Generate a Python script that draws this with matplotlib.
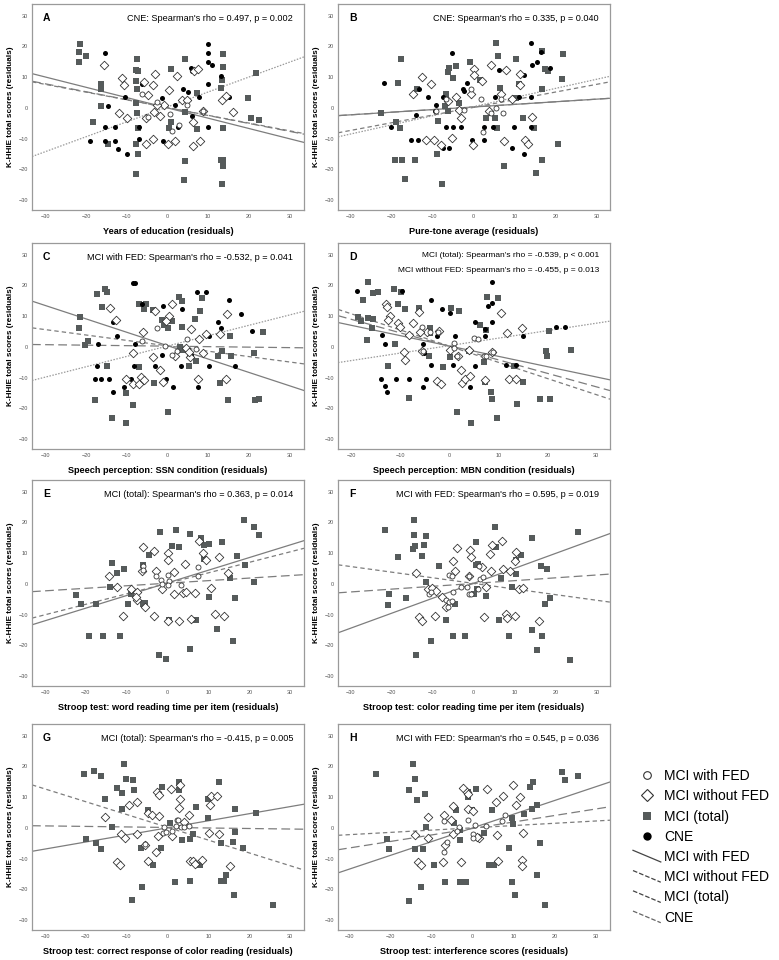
import matplotlib
matplotlib.use("Agg")
import numpy as np
import matplotlib.pyplot as plt
from matplotlib.lines import Line2D
from matplotlib.legend_handler import HandlerBase

plt.rcParams["font.family"] = ["Liberation Sans", "DejaVu Sans"]

# ---------------- data (residuals) ----------------
# A: years of education
A_TOTAL = [(-21.6, 20.9), (-21.8, 18.3), (-21.8, 14.9), (-20.0, 16.8), (-16.5, 7.9), (-16.5, 6.0),
           (-16.3, 0.5), (-18.4, -4.7), (-14.7, -11.8), (-7.5, 15.8), (-7.8, 12.2), (-7.2, 12.0),
           (-7.9, 8.7), (-7.5, 6.0), (-7.7, 1.6), (-7.5, -1.6), (-7.2, -6.5), (-7.7, -11.7),
           (-7.4, -15.0), (-7.9, -21.5), (0.8, 12.7), (0.9, -4.6), (0.4, -6.5), (4.4, 16.0),
           (4.4, -17.2), (4.1, -23.4), (7.3, -6.8), (13.7, 17.6), (13.6, 13.3), (13.3, 9.2),
           (13.2, 6.5), (13.2, -16.8), (13.7, -16.8), (13.6, -19.0), (13.7, -6.5), (13.3, -24.8),
           (21.8, 11.2), (19.9, 3.3), (20.6, -3.3), (22.4, -3.8), (4.4, -1.3), (7.3, 4.9)]
A_CNE = [(-15.5, 17.9), (-14.7, 0.5), (-15.5, -6.3), (-13.0, -6.3), (-19.0, -10.7), (-15.5, -10.7),
         (-13.0, -10.7), (-12.2, -13.4), (-10.1, -15.0), (-10.5, 3.6), (-7.0, -6.3), (-7.0, -10.1),
         (-6.4, 7.9), (-1.5, 3.3), (-1.2, -10.7), (1.8, 0.8), (2.6, -6.3), (3.9, 6.2), (5.1, 5.1),
         (5.8, 13.0), (5.9, 12.0), (5.9, -2.5), (7.7, 3.5), (10.0, 20.9), (10.0, 17.9), (10.0, 14.9),
         (11.0, 13.8), (10.0, 7.8), (10.0, -6.3), (13.1, 10.5), (15.2, 3.5)]
A_NOFED = [(-15.6, 13.8), (-11.2, 9.8), (-10.7, 7.4), (-10.0, -3.3), (-12.0, -1.6), (-5.8, 8.5),
           (-4.8, 4.1), (-5.2, -3.3), (-3.5, 7.4), (-3.0, 10.9), (-3.4, -1.3), (-3.7, -10.1),
           (-5.3, -11.7), (-1.9, -2.5), (-0.9, 0.8), (0.4, 5.7), (2.2, 10.3), (3.5, 2.7), (4.7, 2.7),
           (6.2, -4.6), (6.3, -12.3), (6.6, 12.0), (7.4, 12.5), (8.0, -10.9), (8.8, -1.1), (13.3, 2.7),
           (14.4, 3.8), (16.2, -1.4), (0.2, -11.7), (1.8, -10.9), (-2.7, 1.1)]
A_FED = [(-6.4, 4.6), (-2.5, 2.0), (1.0, -7.6), (4.7, 0.8), (8.7, -1.0), (2.9, -5.5), (-4.8, -3.0),
         (0.5, -2.0)]

# B: pure-tone average
B_TOTAL = [(5.4, 21.0), (-17.7, 15.8), (-0.9, 14.9), (6.0, 16.9), (10.5, 16.0), (16.7, 18.5),
           (21.8, 17.7), (-4.3, 13.5), (-5.9, 12.9), (-6.2, 11.6), (-4.9, 9.6), (1.5, 9.1), (6.4, 6.6),
           (11.1, 7.7), (16.7, 6.1), (17.5, 12.5), (18.1, 11.9), (21.6, 9.4), (-18.4, 8.0),
           (-13.7, 6.3), (-6.6, 4.6), (-6.9, 0.6), (-22.5, -1.7), (-18.8, -4.6), (-18.0, -6.4),
           (-8.6, -4.4), (-6.3, -1.1), (-3.4, 1.7), (3.0, -3.3), (5.2, -3.3), (5.7, -6.4),
           (12.0, -3.3), (14.8, -6.6), (20.6, -11.6), (-8.9, -14.9), (-19.2, -16.9), (-17.4, -17.1),
           (-14.3, -17.1), (7.4, -18.8), (16.7, -17.1), (15.2, -21.3), (-16.6, -23.2), (-7.6, -24.6),
           (10.3, 3.3)]
B_CNE = [(-5.1, 18.0), (-21.7, 8.0), (-13.3, 6.3), (-11.0, 3.5), (-9.2, 0.9), (-7.3, 3.5),
         (-9.4, -0.9), (-2.6, 6.3), (-2.2, 5.5), (-1.6, 8.0), (-13.9, -2.4), (-20.0, -6.1),
         (-15.1, -10.5), (-13.5, -10.5), (-6.7, -6.1), (-4.9, -6.1), (-3.0, -6.1), (-7.3, -13.0),
         (-5.9, -13.0), (-0.4, -10.5), (2.5, -10.5), (2.5, -6.1), (4.9, -6.1), (5.2, 3.5), (6.2, 12.2),
         (11.2, 3.5), (12.3, 10.7), (14.0, 21.0), (14.4, 14.0), (15.4, 14.9), (16.5, 18.2),
         (18.7, 13.0), (14.0, 3.5), (9.9, -6.1), (14.0, -6.1), (9.3, -13.0), (12.3, -14.9)]
B_NOFED = [(-12.5, 10.2), (-10.4, 7.7), (-14.7, 4.4), (-4.3, 3.5), (-6.1, 2.4), (-3.4, -0.6),
           (0.2, 12.7), (0.1, 10.7), (2.1, 8.6), (4.2, 14.0), (8.0, 12.2), (11.3, 11.0), (11.3, 7.5),
           (6.8, 4.4), (9.3, 2.8), (14.4, -3.1), (-11.5, -10.5), (-9.6, -10.5), (-7.8, -11.9),
           (-5.3, -9.7), (0.0, -12.2), (7.5, -10.8), (12.6, -10.5), (13.4, -11.6), (3.9, -1.1),
           (-3.0, -3.3), (-0.6, 4.6)]
B_FED = [(-0.6, 6.3), (1.9, 3.0), (5.6, 0.0), (7.2, -1.7), (4.4, -1.7), (-2.2, -0.6), (-9.0, -1.1),
         (2.3, -7.7), (6.8, 2.8), (-6.7, 2.8)]

# C: speech perception, SSN
C_TOTAL = [(-21.6, 9.7), (-21.9, 6.2), (-20.4, 0.5), (-19.6, 1.8), (-17.4, 17.1), (-16.1, 12.9),
           (-15.3, 18.7), (-14.9, 17.9), (-14.9, -6.3), (-17.8, -17.2), (-13.6, -23.2), (-10.3, -24.6),
           (-10.3, -15.0), (-8.5, -18.8), (-7.0, -6.6), (-7.0, 14.1), (-5.8, 12.4), (-5.3, 13.8),
           (-3.5, 12.0), (-3.4, -11.7), (-1.5, 8.9), (-0.9, 7.0), (0.2, 6.2), (1.2, 8.4), (0.2, -21.3),
           (2.9, 16.2), (3.5, 14.9), (3.6, 6.5), (3.0, 0.0), (5.3, -6.3), (6.7, 9.2), (8.4, 16.0),
           (8.0, 11.6), (5.5, -2.5), (7.0, -4.5), (12.5, -3.0), (12.9, -11.7), (13.3, -1.4),
           (15.4, 3.5), (15.6, -3.0), (15.0, -17.2), (21.3, -2.0), (23.6, 4.9), (21.6, -17.2),
           (22.6, -17.0), (3.6, -0.9)]
C_CNE = [(-8.5, 20.9), (-8.1, 20.9), (-6.2, 13.8), (-1.1, 13.3), (3.5, 12.2), (7.3, 17.9),
         (9.4, 17.9), (15.2, 15.1), (18.1, 10.8), (20.7, 5.3), (-13.4, 8.0), (-12.4, 3.5),
         (-17.1, 0.8), (-8.1, 0.8), (-1.5, -2.5), (3.2, -6.1), (5.7, -2.5), (10.3, 3.7), (12.3, 8.0),
         (13.1, 6.2), (16.6, -6.1), (-17.4, -6.1), (-8.3, -6.1), (-3.1, -6.1), (-17.9, -10.3),
         (-16.5, -10.3), (-14.5, -10.3), (-8.9, -10.3), (-0.5, -10.3), (-10.7, -13.0), (-13.4, -14.8),
         (1.4, -13.0), (7.6, -13.0), (10.3, -6.1)]
C_NOFED = [(-14.1, 12.7), (-12.8, 8.6), (-6.0, 4.8), (-3.0, 11.8), (1.2, 14.1), (0.4, 10.0),
           (-0.4, 8.4), (5.7, 5.9), (7.8, 2.6), (9.4, 4.2), (12.9, 4.2), (14.6, 10.8), (-8.6, -2.0),
           (-3.7, -3.3), (-1.9, -7.6), (-10.3, -10.4), (-8.6, -12.1), (-7.0, -12.1), (-6.6, -9.9),
           (-5.8, -10.9), (-1.2, -11.5), (7.6, -10.4), (14.4, -10.4), (4.5, -0.3), (5.5, -3.3),
           (8.8, -2.0), (1.8, -2.8), (5.3, -1.6)]
C_FED = [(-2.7, 6.2), (-0.7, 0.4), (1.0, -2.5), (2.4, -1.4), (-6.4, 1.8), (6.9, -0.7), (4.7, 2.6)]

# D: speech perception, MBN
D_TOTAL = [(-16.5, 21.1), (-17.7, 15.1), (-15.6, 17.4), (-14.5, 17.8), (-11.3, 18.7), (-9.8, 17.8),
           (-10.5, 13.8), (-9.0, 12.2), (-6.1, 12.7), (-4.0, 6.2), (-3.9, 4.6), (0.3, 12.7),
           (1.9, 11.6), (0.2, -3.4), (7.7, 16.3), (10.0, 16.0), (6.3, 7.0), (7.4, 5.4), (7.0, -5.0),
           (-18.6, 9.8), (-18.1, 8.4), (-16.5, 9.5), (-15.5, 9.1), (-15.8, 6.2), (-16.7, 2.2),
           (-11.1, 0.8), (-12.4, -6.3), (-8.3, -16.6), (-1.2, -6.5), (-4.1, -2.8), (1.6, -21.3),
           (4.5, -24.6), (7.2, -11.5), (8.6, -14.8), (9.8, -23.2), (8.7, -17.0), (13.2, -6.1),
           (13.8, -18.6), (15.1, -11.5), (18.5, -17.0), (20.5, -17.0), (19.8, -1.4), (20.0, -3.0),
           (20.3, 5.1), (24.8, -0.9), (4.0, -1.4)]
D_CNE = [(-18.8, 18.2), (-9.7, 18.2), (-3.8, 15.1), (-1.5, 12.4), (0.2, 10.9), (8.7, 21.2),
         (8.7, 14.3), (8.0, 13.3), (5.2, 8.2), (7.2, 5.7), (8.7, 8.2), (-5.3, 1.1), (-5.1, -2.0),
         (-2.5, 3.7), (1.1, 3.7), (5.3, -6.1), (7.2, 3.7), (15.1, 3.7), (21.8, 6.4), (23.7, 6.4),
         (-13.8, 3.8), (-13.2, 1.1), (-13.9, -10.3), (-10.8, -10.3), (-8.3, -10.3), (-4.8, -10.3),
         (-13.2, -12.8), (-12.8, -14.7), (-5.3, -13.0), (-3.8, -6.0), (0.7, -6.0), (4.3, -13.0),
         (11.6, -6.0), (13.6, -6.0)]
D_NOFED = [(-12.9, 14.1), (-12.8, 12.9), (-12.1, 10.0), (-12.4, 8.9), (-10.4, 7.8), (-10.0, 6.5),
           (-7.3, 7.8), (-6.1, 11.3), (-4.6, 4.8), (-2.1, 5.3), (-8.3, 4.0), (-9.3, -1.7), (-9.0, -4.1),
           (-5.5, -1.4), (0.2, -0.9), (4.0, -0.9), (1.7, -2.8), (8.7, -1.7), (10.6, 10.9), (11.8, 4.6),
           (14.9, 6.2), (-2.4, -11.2), (-1.6, -12.0), (2.6, -11.7), (3.3, -10.4), (4.2, -9.6),
           (7.2, -10.7), (12.1, -10.4), (13.7, -10.4), (2.4, -7.4), (-5.9, 4.8)]
D_FED = [(-5.6, 6.5), (-3.9, 4.8), (0.9, 1.3), (1.6, -2.8), (5.0, 2.9), (5.9, 2.6), (8.9, -1.7),
         (-5.4, -1.4), (7.0, -3.0), (7.6, -3.0), (-2.2, 4.8), (1.0, -0.5)]

# E: Stroop word reading time
E_TOTAL = [(-22.4, -3.5), (-21.1, -6.5), (-17.5, -6.5), (-19.3, -17.0), (-15.8, -16.8), (-11.7, -17.0),
           (-13.5, 6.7), (-12.5, 3.5), (-10.7, 4.9), (-9.6, -6.5), (-8.9, -3.2), (-6.0, 6.2), (-4.5, 9.4),
           (-6.0, -6.5), (-1.9, 17.0), (1.1, 12.4), (2.0, 17.6), (2.9, 11.9), (5.5, 16.2), (8.2, 14.8),
           (9.0, 12.6), (10.1, 13.0), (10.2, -4.3), (13.4, 13.5), (15.2, 1.8), (17.0, 9.0), (16.6, -4.6),
           (18.9, 6.2), (18.6, 20.8), (21.1, 18.4), (22.5, 15.9), (21.1, 0.5), (16.1, -18.7),
           (12.0, -14.8), (-2.2, -23.2), (-0.4, -24.5), (0.4, -11.6), (7.0, -11.6), (5.5, -21.3),
           (-14.1, -1.1), (-5.6, -6.2), (8.8, 8.1)]
E_NOFED = [(-14.3, 2.7), (-12.3, -1.1), (-10.9, -10.3), (-9.0, -1.8), (-7.6, -5.1), (-5.5, -7.6),
           (-6.1, 11.9), (-6.3, 4.3), (-3.3, 10.8), (-2.9, 4.3), (-3.4, -10.3), (0.2, 10.1), (0.2, 7.9),
           (1.6, 3.8), (-1.4, -1.8), (1.6, -3.2), (0.2, -11.9), (2.9, -11.9), (4.3, 6.5), (3.7, -2.9),
           (4.5, -2.5), (5.7, -11.4), (6.8, -3.0), (7.6, 14.1), (8.6, 10.1), (9.4, 7.9), (10.6, -1.3),
           (11.6, -9.9), (12.5, 8.6), (13.7, -10.5), (14.8, 3.6), (-7.5, -2.5), (-7.8, -4.3)]
E_FED = [(-6.1, 5.9), (-6.1, 4.5), (-2.9, 2.7), (-1.6, 1.4), (-1.4, 0.0), (0.0, 2.9), (0.4, 1.1),
         (0.0, -0.5), (7.5, 5.4), (7.5, 2.5), (3.3, -0.5)]

# F: Stroop color reading time
F_TOTAL = [(-14.5, 20.8), (-21.5, 17.5), (-14.4, 16.0), (-11.5, 15.7), (-14.3, 12.4), (-14.8, 11.4),
           (-12.1, 12.8), (-12.5, 9.2), (-18.4, 8.9), (-8.5, 5.9), (-11.5, 0.5), (-20.5, -3.2),
           (-20.7, -6.7), (-16.4, -4.5), (-4.4, -6.5), (-6.7, -11.7), (-10.4, -18.7), (-14.1, -23.2),
           (-4.9, -17.1), (-2.0, -16.8), (0.7, 13.5), (0.7, 6.3), (1.1, 6.5), (0.8, -1.6), (3.0, -3.8),
           (5.2, 18.4), (5.6, 11.9), (6.8, 1.8), (9.3, -1.1), (10.5, 7.9), (10.5, 3.2), (11.7, 9.4),
           (6.2, -11.6), (8.6, -17.1), (14.4, 14.8), (16.5, 5.9), (17.9, 4.9), (18.6, -4.6),
           (17.5, -6.5), (14.4, -14.9), (16.7, -17.1), (15.4, -21.4), (23.5, -24.6), (25.5, 16.8),
           (0.2, -3.2)]
F_NOFED = [(-14.0, 3.5), (-13.3, -10.8), (-12.5, -11.9), (-9.4, -10.5), (-7.7, -4.3), (-6.7, -7.6),
           (-4.1, 11.7), (-4.9, 7.6), (-4.4, 4.3), (-0.8, 11.0), (-0.6, 8.6), (-1.0, 2.7), (2.1, 5.6),
           (2.5, -10.6), (4.1, 9.7), (4.5, 12.6), (7.0, 13.8), (4.4, 4.3), (7.2, 4.9), (8.0, -9.9),
           (8.3, -11.0), (10.1, -10.5), (10.5, 10.5), (10.1, 7.6), (11.1, -1.8), (12.2, -1.4),
           (16.0, -12.2), (-11.0, -1.8), (-10.0, -1.4), (-9.0, -2.2), (3.1, -1.1), (8.9, 4.3)]
F_FED = [(-10.8, -3.2), (-10.4, -2.5), (-6.7, -5.1), (-5.9, 2.9), (-5.9, -6.0), (-5.3, -5.4),
         (-4.9, -2.7), (-3.0, -1.1), (-1.6, -0.9), (-1.1, 2.7), (-1.1, -3.2), (-0.6, -3.2), (1.3, 5.9),
         (1.5, 1.6), (2.3, 2.2), (1.1, -1.8), (-6.3, -7.6), (-5.1, 2.5)]

# G: Stroop correct responses, color reading
G_TOTAL = [(-20.5, 17.6), (-17.9, 18.4), (-16.4, 17.0), (-19.9, -3.5), (-17.5, -4.8), (-16.4, -7.0),
           (-15.3, 9.3), (-13.5, 0.3), (-12.5, 12.9), (-11.2, 6.0), (-11.2, 11.3), (-10.6, 20.8),
           (-10.2, 16.0), (-8.4, 15.7), (-8.2, 12.4), (-6.6, -6.6), (-6.3, -19.1), (-8.6, -23.5),
           (-4.7, 5.8), (-3.5, -12.0), (-1.4, 13.3), (-1.6, -6.6), (0.7, 1.6), (1.8, -17.5), (2.9, 12.4),
           (3.5, -3.8), (5.5, -3.5), (6.1, -1.9), (6.9, 6.7), (5.6, -17.2), (8.0, -11.9), (9.8, 9.4),
           (10.0, 3.1), (12.5, 14.9), (13.1, -4.8), (13.7, -17.4), (13.0, -17.4), (14.3, -15.3),
           (16.6, 6.0), (16.4, -1.3), (16.0, -4.6), (16.2, -21.8), (18.4, -6.6), (21.7, 4.7),
           (25.8, -25.1), (2.9, 14.9)]
G_NOFED = [(-15.3, 3.4), (-12.3, -11.0), (-11.7, -12.0), (-11.5, -2.1), (-10.4, -3.2), (-9.4, 7.4),
           (-7.6, 8.5), (-7.4, -2.1), (-5.6, -5.4), (-4.9, 4.7), (-4.8, -10.8), (-3.9, 4.2), (-2.5, 11.8),
           (-2.0, 10.7), (-2.2, 3.8), (-2.9, -7.9), (-2.3, -2.7), (1.1, -2.7), (0.8, 12.6), (3.1, 13.8),
           (3.1, 9.4), (2.7, 6.4), (3.9, 2.0), (5.3, 4.2), (5.6, -10.8), (6.3, -10.8), (6.8, -11.7),
           (8.4, -10.3), (10.7, 10.4), (10.4, 7.4), (10.2, -1.5), (12.0, 10.5), (12.7, -2.1),
           (15.2, -12.5)]
G_FED = [(-1.2, -1.6), (-0.8, 0.3), (1.2, -1.0), (2.2, 2.5), (2.0, 0.5), (3.3, 0.3), (4.1, 0.3),
         (5.2, 0.5), (-5.6, -5.1), (-0.4, -1.3), (2.5, 2.7)]

# H: Stroop interference scores
H_TOTAL = [(-23.6, 17.6), (-14.6, 20.9), (-14.1, 16.0), (-15.4, 12.4), (-13.5, 9.1), (-11.7, 11.1),
           (-11.3, 0.3), (-20.9, -3.5), (-20.3, -7.0), (-14.1, -6.8), (-12.2, -6.8), (-12.5, -19.2),
           (-15.4, -23.8), (-9.4, -12.0), (-6.7, -17.5), (-4.5, 1.6), (-4.1, 5.8), (-1.2, 11.8),
           (-1.2, 10.2), (-0.2, 5.8), (0.8, 12.6), (-3.1, -0.8), (-3.1, -3.8), (-3.0, -17.5),
           (-1.6, -17.5), (2.7, -1.6), (4.8, 5.8), (3.9, -12.0), (5.3, -12.0), (8.9, -6.6),
           (9.7, -17.7), (10.3, -21.8), (9.7, 3.1), (9.9, 1.4), (12.6, 4.5), (14.1, 13.3), (14.8, 14.8),
           (14.4, 6.0), (15.8, 7.4), (16.4, -4.9), (15.8, -15.3), (17.7, -25.1), (21.9, 18.2),
           (22.6, 15.7), (25.6, 16.8)]
H_NOFED = [(-10.9, 3.4), (-10.8, -3.3), (-14.0, -2.4), (-13.4, -11.2), (-12.5, -12.0), (-7.0, 4.2),
           (-7.1, -11.0), (-6.7, -5.5), (-5.3, 2.5), (-4.8, 7.1), (-2.9, -11.0), (-2.3, 12.9),
           (-1.4, 11.8), (-1.0, 11.1), (-1.2, 6.1), (0.0, 5.5), (1.6, -3.3), (3.4, 12.6), (5.7, 8.5),
           (7.4, 10.5), (5.9, -2.4), (6.2, -10.6), (9.9, 14.0), (10.5, 7.4), (11.5, 9.9), (12.2, -1.6),
           (12.1, -10.4), (12.1, -12.5), (1.0, -3.0), (-4.7, -2.1)]
H_FED = [(-7.0, 2.3), (-6.3, -4.6), (-6.9, -7.9), (-3.4, 0.3), (-1.2, 2.7), (0.2, -1.9), (0.7, 0.9),
         (3.3, 0.5), (7.2, 2.3), (8.0, 4.2), (0.0, -3.2), (-3.7, -1.0)]

# fit lines: (slope, intercept) for MCI with FED, MCI without FED, MCI (total), CNE
A_FIT = [(-0.334, 0.0), (-0.257, 0.1), (-0.251, 0.1), (0.484, 0.35)]
B_FIT = [(0.085, 0.3), (0.085, 0.3), (0.25, 0.16), (0.297, 0.4)]
C_FIT = [(-0.434, 0.4), (-0.016, 0.25), (-0.175, 0.36), (0.336, 0.3)]
D_FIT = [(-0.336, 0.31), (-0.439, 0.2), (-0.526, 0.26), (0.243, 0.42)]
E_FIT = [(0.411, 0.35), (0.083, 0.24), (0.341, 0.2), None]
F_FIT = [(0.487, 0.17), (0.092, 0.14), (-0.183, 0.18), None]
G_FIT = [(0.23, 0.03), (-0.017, 0.15), (-0.416, 0.19), None]
H_FIT = [(0.446, 0.0), (0.211, -0.18), (0.074, 0.03), None]

XLABELS = ["Years of education (residuals)", "Pure-tone average (residuals)",
           "Speech perception: SSN condition (residuals)", "Speech perception: MBN condition (residuals)",
           "Stroop test: word reading time per item (residuals)",
           "Stroop test: color reading time per item (residuals)",
           "Stroop test: correct response of color reading (residuals)",
           "Stroop test: interference scores (residuals)"]
STATS = [["CNE: Spearman's rho = 0.497, p = 0.002"],
         ["CNE: Spearman's rho = 0.335, p = 0.040"],
         ["MCI with FED: Spearman's rho = -0.532, p = 0.041"],
         ["MCI (total): Spearman's rho = -0.539, p < 0.001",
          "MCI without FED: Spearman's rho = -0.455, p = 0.013"],
         ["MCI (total): Spearman's rho = 0.363, p = 0.014"],
         ["MCI with FED: Spearman's rho = 0.595, p = 0.019"],
         ["MCI (total): Spearman's rho = -0.415, p = 0.005"],
         ["MCI with FED: Spearman's rho = 0.545, p = 0.036"]]
LETTERS = list("ABCDEFGH")

POINTS = [(A_TOTAL, A_CNE, A_NOFED, A_FED), (B_TOTAL, B_CNE, B_NOFED, B_FED),
          (C_TOTAL, C_CNE, C_NOFED, C_FED), (D_TOTAL, D_CNE, D_NOFED, D_FED),
          (E_TOTAL, [], E_NOFED, E_FED), (F_TOTAL, [], F_NOFED, F_FED),
          (G_TOTAL, [], G_NOFED, G_FED), (H_TOTAL, [], H_NOFED, H_FED)]
FITS = [A_FIT, B_FIT, C_FIT, D_FIT, E_FIT, F_FIT, G_FIT, H_FIT]
XLIMS = [(-33.4, 33.6), (-33.0, 33.3), (-33.4, 33.6), (-22.7, 32.8),
         (-33.2, 33.4), (-33.0, 33.3), (-33.2, 33.4), (-32.8, 33.5)]

# ---------------- styles ----------------
SQ_COLOR = "#565b5b"
LINE_COLOR = "#7d7d7d"
LINE_STYLES = [dict(linestyle="-"),
               dict(linestyle=(0, (7, 3.5))),
               dict(linestyle=(0, (3.5, 2.5))),
               dict(linestyle=(0, (1.2, 1.2)), color="#9a9a9a")]
LINE_LABELS = ["MCI with FED", "MCI without FED", "MCI (total)", "CNE"]


class DiagonalHandler(HandlerBase):
    def create_artists(self, legend, orig_handle, xdescent, ydescent, width, height, fontsize, trans):
        line = Line2D([-xdescent, -xdescent + width], [-ydescent + height * 1.1, -ydescent - height * 0.1],
                      color=orig_handle.get_color(), linestyle=orig_handle.get_linestyle(),
                      linewidth=orig_handle.get_linewidth())
        line.set_transform(trans)
        return [line]


fig = plt.figure(figsize=(7.79, 9.6), dpi=100)

col_left = [32 / 779, 338 / 779]
row_bottom = [750 / 960, 511 / 960, 274 / 960, 30 / 960]
w, h = 272 / 779, 206 / 960

for i in range(8):
    ax = fig.add_axes([col_left[i % 2], row_bottom[i // 2], w, h])
    total, cne, nofed, fed = POINTS[i]
    for pts, kw in [(total, dict(marker="s", s=15, c=SQ_COLOR, linewidths=0)),
                    (cne, dict(marker="o", s=13, c="black", linewidths=0)),
                    (nofed, dict(marker="D", s=19, facecolors="white", edgecolors="#333333", linewidths=0.6)),
                    (fed, dict(marker="o", s=13, facecolors="white", edgecolors="#333333", linewidths=0.6))]:
        if len(pts):
            arr = np.array(pts)
            ax.scatter(arr[:, 0], arr[:, 1], zorder=3, **kw)

    xl = XLIMS[i]
    ax.set_xlim(xl)
    ax.set_ylim(-33.2, 33.8)
    xs = np.array(xl)
    for fit, st in zip(FITS[i], LINE_STYLES):
        if fit is None:
            continue
        m, b = fit
        style = dict(color=LINE_COLOR, linewidth=0.9)
        style.update(st)
        ax.plot(xs, m * xs + b, zorder=2, **style)

    xt = [-20, -10, 0, 10, 20, 30] if i == 3 else [-30, -20, -10, 0, 10, 20, 30]
    ax.set_xticks(xt)
    ax.set_yticks([-30, -20, -10, 0, 10, 20, 30])
    ax.tick_params(labelsize=4, colors="#555555", length=0, pad=3)
    for sp in ax.spines.values():
        sp.set_color("#9a9a9a")
        sp.set_linewidth(0.9)

    ax.set_xlabel(XLABELS[i], fontsize=6.6, fontweight="bold", labelpad=6)
    ax.set_ylabel("K-HHIE total scores (residuals)", fontsize=5.9, fontweight="bold", labelpad=3)

    ax.text(0.04, 0.93, LETTERS[i], transform=ax.transAxes, fontsize=7.5, fontweight="bold",
            va="center", ha="left")
    if len(STATS[i]) == 1:
        ax.text(0.96, 0.93, STATS[i][0], transform=ax.transAxes, fontsize=6.6, va="center", ha="right")
    else:
        ax.text(0.96, 0.94, STATS[i][0], transform=ax.transAxes, fontsize=6.0, va="center", ha="right")
        ax.text(0.96, 0.865, STATS[i][1], transform=ax.transAxes, fontsize=6.0, va="center", ha="right")

handles = [Line2D([], [], marker="o", linestyle="none", markersize=5.5, markerfacecolor="white",
                  markeredgecolor="#333333", markeredgewidth=0.8),
           Line2D([], [], marker="D", linestyle="none", markersize=6, markerfacecolor="white",
                  markeredgecolor="#333333", markeredgewidth=0.8),
           Line2D([], [], marker="s", linestyle="none", markersize=6, markerfacecolor=SQ_COLOR,
                  markeredgewidth=0),
           Line2D([], [], marker="o", linestyle="none", markersize=6, markerfacecolor="black",
                  markeredgewidth=0)]
labels = ["MCI with FED", "MCI without FED", "MCI (total)", "CNE"]
line_handles = []
for st in LINE_STYLES:
    style = dict(color="#444444", linewidth=0.9)
    style.update(st)
    if "color" in st:
        style["color"] = "#666666"
    line_handles.append(Line2D([], [], **style))
handler_map = {lh: DiagonalHandler() for lh in line_handles}

fig.legend(handles + line_handles, labels + LINE_LABELS, loc="upper left",
           bbox_to_anchor=(633 / 779, 1 - 769 / 960), frameon=False, fontsize=10,
           handlelength=2.0, handletextpad=0.25, labelspacing=0.45, borderpad=0, borderaxespad=0,
           handler_map=handler_map)

fig.savefig("out.png", dpi=100)
